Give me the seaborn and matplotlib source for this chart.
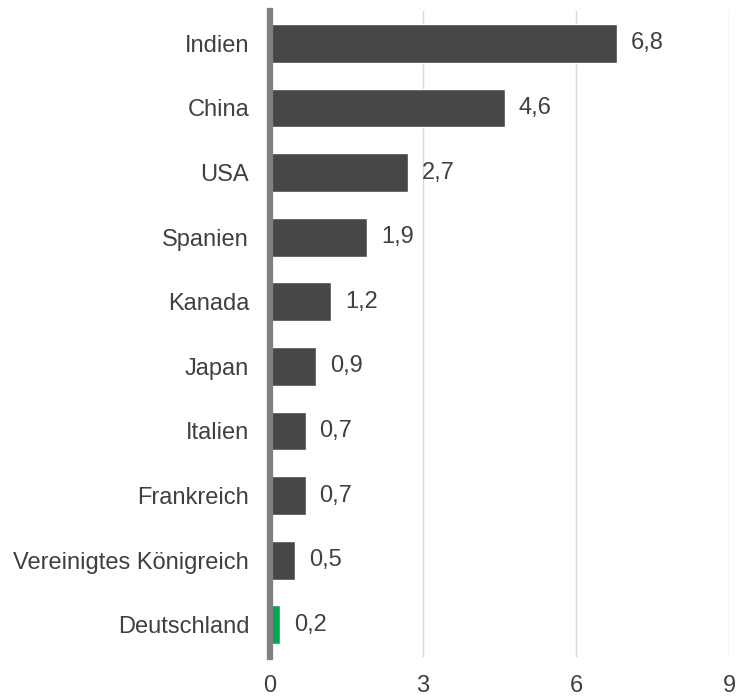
import matplotlib
matplotlib.use("Agg")
import matplotlib.pyplot as plt
import seaborn as sns
import pandas as pd

countries = ["Indien", "China", "USA", "Spanien", "Kanada", "Japan", "Italien",
             "Frankreich", "Vereinigtes Königreich", "Deutschland"]
values = [6.8, 4.6, 2.7, 1.9, 1.2, 0.9, 0.7, 0.7, 0.5, 0.2]
bar_colors = ["#474747"] * 9 + ["#00A651"]
xticks = [0, 3, 6, 9]

sns.set_theme(style="white")
plt.rcParams['font.family'] = ['Liberation Sans', 'DejaVu Sans']

df = pd.DataFrame({"Land": countries, "Wert": values})

fig = plt.figure(figsize=(7.36, 6.98), dpi=100)
ax = fig.add_axes([0.3668, 0.0587, 0.6237, 0.9255])

sns.barplot(data=df, x="Wert", y="Land", hue="Land", palette=bar_colors,
            order=countries, hue_order=countries, width=0.6, legend=False,
            saturation=1, ax=ax)

ax.set_xlim(0, 9)
ax.set_ylim(9.5, -0.5)
ax.set_xticks(xticks)
ax.set_xticklabels([str(t) for t in xticks])
ax.xaxis.grid(True, color="#d9d9d9", linewidth=1)
ax.set_axisbelow(True)
for s in ["top", "right", "bottom"]:
    ax.spines[s].set_visible(False)
ax.spines["left"].set_color("#808080")
ax.spines["left"].set_linewidth(4.5)
ax.set_xlabel("")
ax.set_ylabel("")
ax.tick_params(axis="both", length=0, labelsize=17, labelcolor="#404040")
ax.tick_params(axis="y", pad=15)
ax.tick_params(axis="x", pad=13)

for cont in ax.containers:
    labels = [f"{v:.1f}".replace(".", ",") for v in cont.datavalues]
    ax.bar_label(cont, labels=labels, padding=10, fontsize=17, color="#404040")

fig.savefig("out.png", dpi=100)
